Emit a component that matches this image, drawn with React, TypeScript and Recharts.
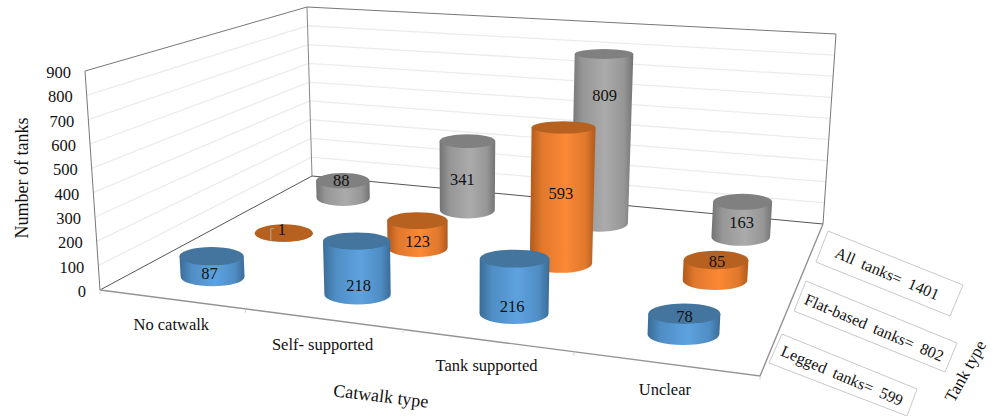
import React from "react";
import { BarChart, Bar, XAxis, YAxis, Customized } from "recharts";

// Values per catwalk type, one list per tank type
const catwalkTypes = ["No catwalk", "Self- supported", "Tank supported", "Unclear"];
const leggedTanks = [87, 218, 216, 78];
const flatBasedTanks = [1, 123, 593, 85];
const allTanks = [88, 341, 809, 163];
const valueTicks = [0, 100, 200, 300, 400, 500, 600, 700, 800, 900];

const chartRows = catwalkTypes.map((name, i) => ({
  name,
  legged: leggedTanks[i],
  flat: flatBasedTanks[i],
  all: allTanks[i],
}));

const sum = (list: number[]) => list.reduce((a, b) => a + b, 0);

const WIDTH = 993;
const HEIGHT = 416;
const PLOT_TOP = 71;
const PLOT_BOTTOM = 290;
const FONT = "'Liberation Serif', 'Times New Roman', serif";

// Floor of the 3D box as a projective map of the unit square
const projectFloor = (u: number, v: number) => {
  const w = 1 - 0.152 * u + 0.3103 * v;
  return {
    x: (544.5 * u + 308.8 * v + 100) / w,
    y: (28.8 * u - 59.4 * v + 290) / w,
    w,
  };
};

// Verticals converge slightly towards a point under the box
const lean = (x: number, h: number) => h * (x - 461) * 0.00019;

const PALETTE = {
  blue: { id: "sideBlue", top: "#44759f", edge: "#3a6c97", mid: "#4f8dc4", light: "#5da2df" },
  orange: { id: "sideOrange", top: "#b6611f", edge: "#b0591c", mid: "#e0782c", light: "#fb8835" },
  gray: { id: "sideGray", top: "#808080", edge: "#737373", mid: "#969696", light: "#ababab" },
};

// Where each data label sits, relative to the cylinder's top and base centre
const labelNudges: Record<string, [number, number][]> = {
  blue: [[-3, 18], [1, 45], [-2, 48], [1, 3]],
  orange: [[-2, -3], [0, 21], [0, 67], [2, 2]],
  gray: [[-2, 0], [-5, 39], [5, 42], [1, 21]],
};

function cylinderShape(depth: number, tone: keyof typeof PALETTE) {
  return function Cylinder(props: any) {
    const { index, height, value } = props;
    const base = projectFloor((index + 0.5) / 4, (depth + 0.5) / 3);
    const h = height / base.w;
    const rx = 33 / base.w;
    const ry = rx * 0.3;
    const baseY = base.y + (depth === 0 ? 2 : 1);
    const topX = base.x + lean(base.x, h);
    const topY = baseY - h;
    const topRx = rx * (1 + h * 0.0002);
    const topRy = topRx * (0.3 - h * 0.00078);
    const c = PALETTE[tone];
    const [dx, dy] = labelNudges[tone][index];
    const side =
      `M${base.x - rx},${baseY} L${topX - topRx},${topY} L${topX + topRx},${topY} ` +
      `L${base.x + rx},${baseY} A${rx},${ry} 0 0 1 ${base.x - rx},${baseY} Z`;
    return (
      <g>
        <path d={side} fill={`url(#${c.id})`} />
        <ellipse cx={topX} cy={topY} rx={topRx} ry={topRy} fill={c.top} />
        {value <= 1 && (
          <path
            d={`M${topX - 10},${topY - 4.5} H${topX - 13} V${topY + 7.5}`}
            fill="none"
            stroke="#b4a99f"
            strokeWidth={1}
          />
        )}
        <text
          x={base.x + dx}
          y={topY + dy + 5}
          textAnchor="middle"
          fontFamily={FONT}
          fontSize={16.5}
          fill="#111"
        >
          {value}
        </text>
      </g>
    );
  };
}

const wallFrac = (t: number) => t / 900;
const mix = (a: number, b: number, t: number) => a + (b - a) * t;

// Wall corners: left front, left back, right back, at floor level and at the top
const LF = { x0: 100, y0: 290, x1: 85, y1: 71 };
const LB = { x0: 312, y0: 176, x1: 307, y1: 7 };
const RB = { x0: 823, y0: 224, x1: 836, y1: 34 };
const FR = { x: 760, y: 376 };

function Walls() {
  const at = (c: typeof LF, t: number) => ({
    x: mix(c.x0, c.x1, wallFrac(t)),
    y: mix(c.y0, c.y1, wallFrac(t)),
  });
  const frontTicks = [0, 0.25, 0.5, 0.75, 1].map((u) => projectFloor(u, 0));
  return (
    <g>
      {valueTicks.slice(1, -1).map((t) => {
        const a = at(LF, t);
        const b = at(LB, t);
        const c = at(RB, t);
        return (
          <polyline
            key={t}
            points={`${a.x},${a.y} ${b.x},${b.y} ${c.x},${c.y}`}
            fill="none"
            stroke="#ececec"
            strokeWidth={1.3}
          />
        );
      })}
      <polyline
        points={`${LF.x0},${LF.y0} ${LF.x1},${LF.y1} ${LB.x1},${LB.y1} ${RB.x1},${RB.y1} ${RB.x0},${RB.y0}`}
        fill="none"
        stroke="#777"
        strokeWidth={1}
      />
      <line x1={LB.x0} y1={LB.y0} x2={LB.x1} y2={LB.y1} stroke="#888" strokeWidth={1} />
      <polyline
        points={`${LF.x0},${LF.y0} ${LB.x0},${LB.y0} ${RB.x0},${RB.y0}`}
        fill="none"
        stroke="#555"
        strokeWidth={1}
      />
      <polyline
        points={`${LF.x0},${LF.y0} ${FR.x},${FR.y} ${RB.x0},${RB.y0}`}
        fill="none"
        stroke="#949494"
        strokeWidth={1.4}
      />
      {frontTicks.map((p, i) => (
        <line key={i} x1={p.x} y1={p.y} x2={p.x} y2={p.y + 4} stroke="#d4d4d4" strokeWidth={1} />
      ))}
    </g>
  );
}

// Tank-type captions laid out on the slanted depth axis
const tankTypeBoxes = [
  { text: `All  tanks=  ${sum(allTanks)}`, cx: 887, cy: 274, pts: "828,231 963,285 950,316 816,262" },
  { text: `Flat-based  tanks=  ${sum(flatBasedTanks)}`, cx: 874, cy: 328, pts: "806,281 957,343 945,372 794,311" },
  { text: `Legged  tanks=  ${sum(leggedTanks)}`, cx: 842, cy: 376, pts: "782,334 917,389 907,416 769,363" },
];

function TankTypeCaptions() {
  return (
    <g fontFamily={FONT} fill="#111">
      {tankTypeBoxes.map((b) => (
        <g key={b.text}>
          <polygon points={b.pts} fill="#fff" stroke="#c9c9c9" strokeWidth={1} />
          <text
            x={b.cx}
            y={b.cy}
            dy={5}
            fontSize={16}
            textAnchor="middle"
            xmlSpace="preserve"
            transform={`rotate(23 ${b.cx} ${b.cy})`}
          >
            {b.text}
          </text>
        </g>
      ))}
      <text
        x={22}
        y={178}
        dy={6}
        fontSize={18}
        textAnchor="middle"
        transform="rotate(-90 22 178)"
      >
        Number of tanks
      </text>
      <text x={381} y={396} dy={6} fontSize={18} textAnchor="middle" transform="rotate(7 381 396)">
        Catwalk type
      </text>
      <text x={965} y={371} dy={6} fontSize={17} textAnchor="middle" transform="rotate(-61 965 371)">
        Tank type
      </text>
    </g>
  );
}

function ValueTick(props: any) {
  const { y, payload } = props;
  const right = 86 - ((PLOT_BOTTOM - y) / (PLOT_BOTTOM - PLOT_TOP)) * 15;
  return (
    <text x={right} y={y + 7} textAnchor="end" fontFamily={FONT} fontSize={16.5} fill="#111">
      {payload.value}
    </text>
  );
}

function CategoryTick(props: any) {
  const { index, payload } = props;
  const p = projectFloor((index + 0.5) / 4, 0);
  return (
    <text x={p.x} y={p.y + 31} textAnchor="middle" fontFamily={FONT} fontSize={16.5} fill="#111">
      {payload.value}
    </text>
  );
}

function SideGradient({ c }: { c: (typeof PALETTE)["blue"] }) {
  return (
    <linearGradient id={c.id} x1="0" y1="0" x2="1" y2="0">
      <stop offset="0" stopColor={c.edge} />
      <stop offset="0.18" stopColor={c.mid} />
      <stop offset="0.55" stopColor={c.light} />
      <stop offset="0.85" stopColor={c.mid} />
      <stop offset="1" stopColor={c.edge} />
    </linearGradient>
  );
}

export default function App() {
  return (
    <div style={{ position: "absolute", left: 0, top: 0, width: WIDTH, height: HEIGHT, overflow: "hidden", background: "#fff" }}>
      <BarChart
        width={WIDTH}
        height={HEIGHT}
        data={chartRows}
        margin={{ top: PLOT_TOP, bottom: 0, left: 0, right: 150 }}
      >
        <defs>
          <SideGradient c={PALETTE.blue} />
          <SideGradient c={PALETTE.orange} />
          <SideGradient c={PALETTE.gray} />
        </defs>
        <Customized component={Walls} />
        <XAxis
          dataKey="name"
          height={HEIGHT - PLOT_BOTTOM}
          axisLine={false}
          tickLine={false}
          interval={0}
          tick={CategoryTick}
        />
        <YAxis
          domain={[0, 900]}
          ticks={valueTicks}
          width={100}
          axisLine={false}
          tickLine={false}
          tick={ValueTick}
        />
        <Bar dataKey="all" isAnimationActive={false} shape={cylinderShape(2, "gray")} />
        <Bar dataKey="flat" isAnimationActive={false} shape={cylinderShape(1, "orange")} />
        <Bar dataKey="legged" isAnimationActive={false} shape={cylinderShape(0, "blue")} />
        <Customized component={TankTypeCaptions} />
      </BarChart>
    </div>
  );
}
